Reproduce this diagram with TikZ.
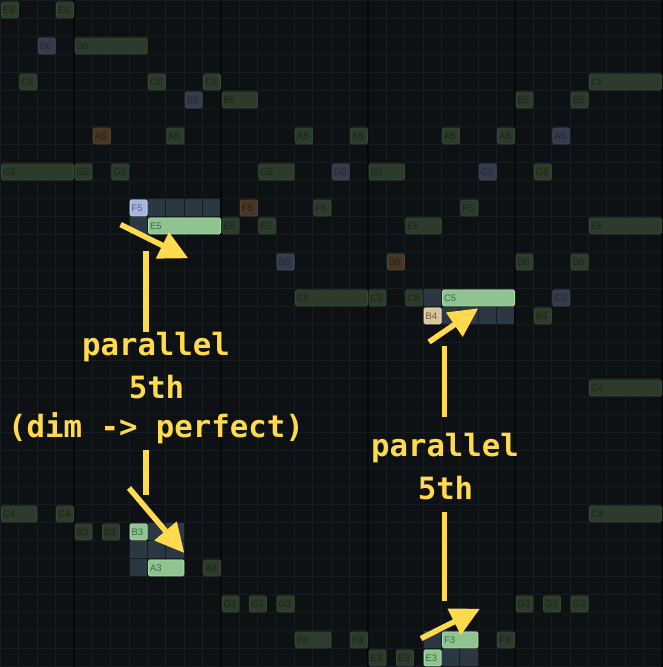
\documentclass[tikz,border=0pt]{standalone}
\usepackage{fontspec}
\setmainfont{Liberation Sans}
\newfontfamily\annotfont{DejaVu Sans Mono}
\usetikzlibrary{arrows.meta}
\definecolor{bgc}{HTML}{0D1114}
\definecolor{gridc}{HTML}{161C20}
\definecolor{barc}{HTML}{05070A}
\definecolor{selc}{HTML}{2B3843}
\definecolor{dgfill}{HTML}{2C3B2B}
\definecolor{dgline}{HTML}{37482F}
\definecolor{dgtext}{HTML}{1A2418}
\definecolor{pgfill}{HTML}{363B4B}
\definecolor{pgline}{HTML}{444A5D}
\definecolor{pgtext}{HTML}{20263A}
\definecolor{brfill}{HTML}{463626}
\definecolor{brline}{HTML}{56432F}
\definecolor{brtext}{HTML}{2A1F14}
\definecolor{bgfill}{HTML}{8FC491}
\definecolor{bgline}{HTML}{ADDBAD}
\definecolor{bgtext}{HTML}{3A6A45}
\definecolor{blfill}{HTML}{A8B6DE}
\definecolor{blline}{HTML}{C6D1F0}
\definecolor{bltext}{HTML}{4E5F94}
\definecolor{befill}{HTML}{DAC59F}
\definecolor{beline}{HTML}{EBDDBA}
\definecolor{betext}{HTML}{6D5A3A}
\definecolor{yel}{HTML}{FFDA4D}
\newcommand\pnote[6]{%
  \pgfmathsetmacro\nx{0.5+18.375*#2+0.6}%
  \pgfmathsetmacro\ny{0.5+18*#3+1}%
  \pgfmathsetmacro\nw{18.375*#4-1.4}%
  \pgfmathsetmacro\tw{\nw-3}%
  \node[#5, minimum width=\nw pt, text width=\tw pt] (#1) at (\nx,\ny) {#6};%
}
\begin{document}
\begin{tikzpicture}[x=1pt,y=-1pt,
  note/.style={anchor=north west, minimum height=16pt, inner xsep=1.5pt, inner ysep=0pt,
    rounded corners=1.5pt, line width=0.8pt, align=left,
    font=\fontsize{9.5}{10}\selectfont, text height=6.8pt, text depth=0pt},
  dg/.style={note, fill=dgfill, draw=dgline, text=dgtext},
  pg/.style={note, fill=pgfill, draw=pgline, text=pgtext},
  brn/.style={note, fill=brfill, draw=brline, text=brtext},
  bgr/.style={note, fill=bgfill, draw=bgline, text=bgtext},
  blu/.style={note, fill=blfill, draw=blline, text=bltext},
  bei/.style={note, fill=befill, draw=beline, text=betext},
  selbox/.style={fill=selc, draw=none},
  gridline/.style={draw=gridc, line width=0.8pt},
  barline/.style={draw=barc, line width=1.2pt},
  annot/.style={text=yel, font=\annotfont\bfseries\fontsize{30.7}{36}\selectfont, anchor=base, inner sep=0pt},
  yline/.style={draw=yel, line width=5.5pt},
  yarrow/.style={draw=yel, line width=5.5pt, -{Triangle[length=29pt,width=28pt]}}
]
\useasboundingbox (0,0) rectangle (663,667);
\fill[bgc] (0,0) rectangle (663,667);
% selections
\fill[selbox] (129.1,198.5) rectangle (221,234.5);
\fill[selbox] (423.1,288.5) rectangle (515,324.5);
\fill[selbox] (129.1,522.5) rectangle (184.25,576.5);
\fill[selbox] (423.1,630.5) rectangle (478.25,667);
% grid
\foreach \k in {0,...,37} \draw[gridline] (0,{0.5+18*\k}) -- (663,{0.5+18*\k});
\foreach \k in {0,...,36} \draw[gridline] ({0.5+18.375*\k},0) -- ({0.5+18.375*\k},667);
\foreach \k in {4,12,20,28,36} \draw[barline] ({0.5+18.375*\k},0) -- ({0.5+18.375*\k},667);
% notes
\pnote{e6a}{0}{0}{1}{dg}{E6}
\pnote{e6b}{3}{0}{1}{dg}{E6}
\pnote{d6a}{2}{2}{1}{pg}{D6}
\pnote{d6b}{4}{2}{4}{dg}{D6}
\pnote{c6a}{1}{4}{1}{dg}{C6}
\pnote{c6b}{8}{4}{1}{dg}{C6}
\pnote{c6c}{11}{4}{1}{dg}{C6}
\pnote{c6d}{32}{4}{4}{dg}{C6}
\pnote{b5a}{10}{5}{1}{pg}{B5}
\pnote{b5b}{12}{5}{2}{dg}{B5}
\pnote{b5c}{28}{5}{1}{dg}{B5}
\pnote{b5d}{31}{5}{1}{dg}{B5}
\pnote{a5a}{5}{7}{1}{brn}{A5}
\pnote{a5b}{9}{7}{1}{dg}{A5}
\pnote{a5c}{16}{7}{1}{dg}{A5}
\pnote{a5d}{19}{7}{1}{dg}{A5}
\pnote{a5e}{24}{7}{1}{dg}{A5}
\pnote{a5f}{27}{7}{1}{dg}{A5}
\pnote{a5g}{30}{7}{1}{pg}{A5}
\pnote{g5a}{0}{9}{4}{dg}{G5}
\pnote{g5b}{4}{9}{1}{dg}{G5}
\pnote{g5c}{6}{9}{1}{dg}{G5}
\pnote{g5d}{14}{9}{2}{dg}{G5}
\pnote{g5e}{18}{9}{1}{pg}{G5}
\pnote{g5f}{20}{9}{2}{dg}{G5}
\pnote{g5g}{26}{9}{1}{pg}{G5}
\pnote{g5h}{29}{9}{1}{dg}{G5}
\pnote{f5a}{7}{11}{1}{blu}{F5}
\pnote{f5b}{13}{11}{1}{brn}{F5}
\pnote{f5c}{17}{11}{1}{dg}{F5}
\pnote{f5d}{25}{11}{1}{dg}{F5}
\pnote{e5a}{8}{12}{4}{bgr}{E5}
\pnote{e5b}{12}{12}{1}{dg}{E5}
\pnote{e5c}{14}{12}{1}{dg}{E5}
\pnote{e5d}{22}{12}{2}{dg}{E5}
\pnote{e5e}{32}{12}{4}{dg}{E5}
\pnote{d5a}{15}{14}{1}{pg}{D5}
\pnote{d5b}{21}{14}{1}{brn}{D5}
\pnote{d5c}{28}{14}{1}{dg}{D5}
\pnote{d5d}{31}{14}{1}{dg}{D5}
\pnote{c5a}{16}{16}{4}{dg}{C5}
\pnote{c5b}{20}{16}{1}{dg}{C5}
\pnote{c5c}{22}{16}{1}{dg}{C5}
\pnote{c5d}{24}{16}{4}{bgr}{C5}
\pnote{c5e}{30}{16}{1}{pg}{C5}
\pnote{b4a}{23}{17}{1}{bei}{B4}
\pnote{b4b}{29}{17}{1}{dg}{B4}
\pnote{g4a}{32}{21}{4}{dg}{G4}
\pnote{c4a}{0}{28}{2}{dg}{C4}
\pnote{c4b}{3}{28}{1}{dg}{C4}
\pnote{c4c}{32}{28}{4}{dg}{C4}
\pnote{b3a}{4}{29}{1}{dg}{B3}
\pnote{b3b}{5.5}{29}{1}{dg}{B3}
\pnote{b3c}{7}{29}{1}{bgr}{B3}
\pnote{a3a}{8}{31}{2}{bgr}{A3}
\pnote{a3b}{11}{31}{1}{dg}{A3}
\pnote{g3a}{12}{33}{1}{dg}{G3}
\pnote{g3b}{13.5}{33}{1}{dg}{G3}
\pnote{g3c}{15}{33}{1}{dg}{G3}
\pnote{g3d}{28}{33}{1}{dg}{G3}
\pnote{g3e}{29.5}{33}{1}{dg}{G3}
\pnote{g3f}{31}{33}{1}{dg}{G3}
\pnote{f3a}{16}{35}{2}{dg}{F3}
\pnote{f3b}{19}{35}{1}{dg}{F3}
\pnote{f3c}{24}{35}{2}{bgr}{F3}
\pnote{f3d}{27}{35}{1}{dg}{F3}
\pnote{e3a}{20}{36}{1}{dg}{E3}
\pnote{e3b}{21.5}{36}{1}{dg}{E3}
\pnote{e3c}{23}{36}{1}{bgr}{E3}
% annotation texts
\node[annot] (t1a) at (156,355.5) {parallel};
\node[annot] (t1b) at (156.5,398) {5th};
\node[annot] (t1c) at (156,437) {(dim -> perfect)};
\node[annot] (t2a) at (445,456.5) {parallel};
\node[annot] (t2b) at (445.5,499) {5th};
% connector end points
\coordinate (a1s) at (120.5,224.5);
\coordinate (a1e) at (188.3,258.3);
\coordinate (a2s) at (129,488);
\coordinate (a2e) at (184.3,553);
\coordinate (a3s) at (429,342);
\coordinate (a3e) at (478.3,308.3);
\coordinate (a4s) at (421,638.5);
\coordinate (a4e) at (480,608.7);
\coordinate (l1s) at (146,251);
\coordinate (l1e) at (146,332);
\coordinate (l2s) at (146,450);
\coordinate (l2e) at (146,495);
\coordinate (l3s) at (444.3,346);
\coordinate (l3e) at (444.3,417.3);
\coordinate (l4s) at (444.3,512);
\coordinate (l4e) at (444.3,601.3);
\draw[yarrow] (a1s) -- (a1e);
\draw[yarrow] (a2s) -- (a2e);
\draw[yarrow] (a3s) -- (a3e);
\draw[yarrow] (a4s) -- (a4e);
\draw[yline] (l1s) -- (l1e);
\draw[yline] (l2s) -- (l2e);
\draw[yline] (l3s) -- (l3e);
\draw[yline] (l4s) -- (l4e);
\end{tikzpicture}
\end{document}
